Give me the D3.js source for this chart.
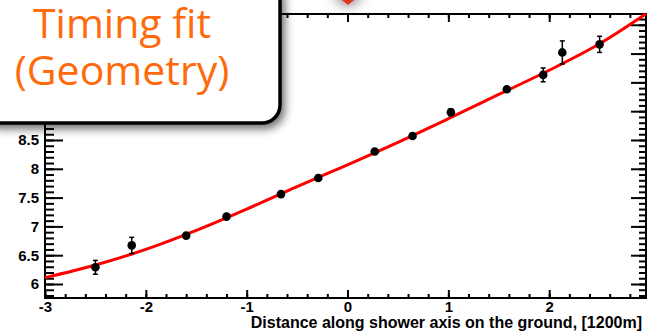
<!DOCTYPE html>
<html>
<head>
<meta charset="utf-8">
<script src="https://cdn.jsdelivr.net/npm/d3@7"></script>
<style>
  body { margin: 0; background: #fff; }
  svg { display: block; }
</style>
</head>
<body>
<div id="chart"></div>
<script>
// measured points (distance along axis, time) with errors
const pointX = [-2.5, -2.14, -1.6, -1.2, -0.66, -0.29, 0.27, 0.645, 1.025, 1.58, 1.94, 2.13, 2.5]
const pointY = [6.29, 6.67, 6.84, 7.17, 7.56, 7.84, 8.30, 8.57, 8.98, 9.38, 9.63, 10.02, 10.16]
const pointErr = [0.12, 0.14, 0.03, 0.03, 0.03, 0.03, 0.03, 0.04, 0.06, 0.03, 0.12, 0.2, 0.14]

// fit curve
const fitX = [-3, -2.5, -2, -1.5, -1, -0.5, 0, 0.5, 1, 1.5, 2, 2.5, 2.96]
const fitY = [6.11, 6.33, 6.60, 6.93, 7.30, 7.69, 8.07, 8.46, 8.87, 9.29, 9.71, 10.17, 10.69]

const xTicks = [-3, -2, -1, 0, 1, 2]
const yTicks = [6, 6.5, 7, 7.5, 8, 8.5, 9, 9.5, 10, 10.5]
// labels under the title box are not visible, only these ones show
const yLabels = [6, 6.5, 7, 7.5, 8, 8.5]
const xTitle = 'Distance along shower axis on the ground, [1200m]'
const boxLines = ['Timing fit', '(Geometry)']

const W = 652
const H = 331
const frame = { left: 45, right: 646, top: 14, bottom: 298 }

const svg = d3
  .select('#chart')
  .append('svg')
  .attr('width', W)
  .attr('height', H)

const defs = svg.append('defs')
const shadow = defs.append('filter').attr('id', 'shadow')
  .attr('x', '-20%').attr('y', '-20%').attr('width', '150%').attr('height', '150%')
shadow.append('feGaussianBlur').attr('in', 'SourceAlpha').attr('stdDeviation', 5)
shadow.append('feOffset').attr('dx', 3).attr('dy', 4).attr('result', 'off')
shadow.append('feComponentTransfer').append('feFuncA').attr('type', 'linear').attr('slope', 0.6)
const merge = shadow.append('feMerge')
merge.append('feMergeNode')
merge.append('feMergeNode').attr('in', 'SourceGraphic')

const glow = defs.append('filter').attr('id', 'glow')
  .attr('x', '-150%').attr('y', '-150%').attr('width', '400%').attr('height', '400%')
glow.append('feGaussianBlur').attr('in', 'SourceAlpha').attr('stdDeviation', 7)
glow.append('feComponentTransfer').append('feFuncA').attr('type', 'linear').attr('slope', 0.8)
const merge2 = glow.append('feMerge')
merge2.append('feMergeNode')
merge2.append('feMergeNode').attr('in', 'SourceGraphic')

const x = d3.scaleLinear().domain([-3, 2.96]).range([frame.left, frame.right])
const y = d3.scaleLinear().domain([5.757, 10.687]).range([frame.bottom, frame.top])

const minorX = d3.range(-3, 2.97, 0.2)
const minorY = d3.range(5.8, 10.69, 0.1)

const font = "'Liberation Sans', Arial, Helvetica, sans-serif"
// ROOT prints a plain hyphen for negatives
const fmt = d => String(+d.toFixed(1))

function styleAxis(g) {
  g.select('.domain').remove()
  g.selectAll('line').attr('stroke', '#000').attr('stroke-width', 2)
  g.selectAll('text')
    .attr('font-family', font)
    .attr('font-weight', 'bold')
    .attr('font-size', 15)
    .attr('fill', '#000')
}

// bottom axis
svg.append('g')
  .attr('transform', `translate(0,${frame.bottom})`)
  .call(d3.axisBottom(x).tickValues(minorX).tickSizeInner(-4).tickSizeOuter(0).tickFormat(''))
  .call(styleAxis)
svg.append('g')
  .attr('transform', `translate(0,${frame.bottom})`)
  .call(d3.axisBottom(x).tickValues(xTicks).tickSizeInner(-8).tickSizeOuter(0).tickPadding(3).tickFormat(fmt))
  .call(styleAxis)

// top axis
svg.append('g')
  .attr('transform', `translate(0,${frame.top})`)
  .call(d3.axisTop(x).tickValues(minorX).tickSizeInner(-4).tickSizeOuter(0).tickFormat(''))
  .call(styleAxis)
svg.append('g')
  .attr('transform', `translate(0,${frame.top})`)
  .call(d3.axisTop(x).tickValues(xTicks).tickSizeInner(-8).tickSizeOuter(0).tickFormat(''))
  .call(styleAxis)

// left axis
svg.append('g')
  .attr('transform', `translate(${frame.left},0)`)
  .call(d3.axisLeft(y).tickValues(minorY).tickSizeInner(-9).tickSizeOuter(0).tickFormat(''))
  .call(styleAxis)
svg.append('g')
  .attr('transform', `translate(${frame.left},0)`)
  .call(d3.axisLeft(y).tickValues(yTicks).tickSizeInner(-18).tickSizeOuter(0).tickFormat(''))
  .call(styleAxis)
svg.append('g')
  .attr('transform', `translate(${frame.left},0)`)
  .call(d3.axisLeft(y).tickValues(yLabels).tickSize(0).tickPadding(6).tickFormat(fmt))
  .call(styleAxis)

// right axis
svg.append('g')
  .attr('transform', `translate(${frame.right},0)`)
  .call(d3.axisRight(y).tickValues(minorY).tickSizeInner(-7).tickSizeOuter(0).tickFormat(''))
  .call(styleAxis)
svg.append('g')
  .attr('transform', `translate(${frame.right},0)`)
  .call(d3.axisRight(y).tickValues(yTicks).tickSizeInner(-15).tickSizeOuter(0).tickFormat(''))
  .call(styleAxis)

// frame
svg.append('rect')
  .attr('x', frame.left)
  .attr('y', frame.top)
  .attr('width', frame.right - frame.left)
  .attr('height', frame.bottom - frame.top)
  .attr('fill', 'none')
  .attr('stroke', '#000')
  .attr('stroke-width', 2)

// axis title
svg.append('text')
  .attr('x', 642)
  .attr('y', 328)
  .attr('text-anchor', 'end')
  .attr('font-family', font)
  .attr('font-weight', 'bold')
  .attr('font-size', 16)
  .text(xTitle)

// fit curve
const fit = fitX.map((d, i) => [d, fitY[i]])
const line = d3.line()
  .x(d => x(d[0]))
  .y(d => y(d[1]))
  .curve(d3.curveCatmullRom)

svg.append('path')
  .datum(fit)
  .attr('d', line)
  .attr('fill', 'none')
  .attr('stroke', '#ff0000')
  .attr('stroke-width', 3)

// data points
const points = pointX.map((d, i) => ({ x: d, y: pointY[i], e: pointErr[i] }))
const pts = svg.append('g').selectAll('g')
  .data(points)
  .enter()
  .append('g')

pts.append('line')
  .attr('x1', d => x(d.x)).attr('x2', d => x(d.x))
  .attr('y1', d => y(d.y + d.e)).attr('y2', d => y(d.y - d.e))
  .attr('stroke', '#000').attr('stroke-width', 1.5)
pts.append('line')
  .attr('x1', d => x(d.x) - 2.5).attr('x2', d => x(d.x) + 2.5)
  .attr('y1', d => y(d.y + d.e)).attr('y2', d => y(d.y + d.e))
  .attr('stroke', '#000').attr('stroke-width', 1.5)
pts.append('line')
  .attr('x1', d => x(d.x) - 2.5).attr('x2', d => x(d.x) + 2.5)
  .attr('y1', d => y(d.y - d.e)).attr('y2', d => y(d.y - d.e))
  .attr('stroke', '#000').attr('stroke-width', 1.5)
pts.append('circle')
  .attr('cx', d => x(d.x))
  .attr('cy', d => y(d.y))
  .attr('r', 4.3)
  .attr('fill', '#000')

// red arrow tip coming from above
svg.append('path')
  .attr('d', 'M332,-8 L364,-8 L348,5 Z')
  .attr('fill', '#d8381c')
  .attr('filter', 'url(#glow)')

// title box
const box = svg.append('g')
box.append('rect')
  .attr('x', -20)
  .attr('y', -20)
  .attr('width', 300)
  .attr('height', 143)
  .attr('rx', 18)
  .attr('fill', '#fff')
  .attr('stroke', '#000')
  .attr('stroke-width', 3.5)
  .attr('filter', 'url(#shadow)')

box.selectAll('text')
  .data(boxLines)
  .enter()
  .append('text')
  .attr('x', 122)
  .attr('y', (d, i) => 38 + i * 47)
  .attr('text-anchor', 'middle')
  .attr('font-family', "'Open Sans', 'Noto Sans', sans-serif")
  .attr('font-size', 41)
  .attr('fill', '#ff6a0d')
  .text(d => d)
</script>
</body>
</html>
